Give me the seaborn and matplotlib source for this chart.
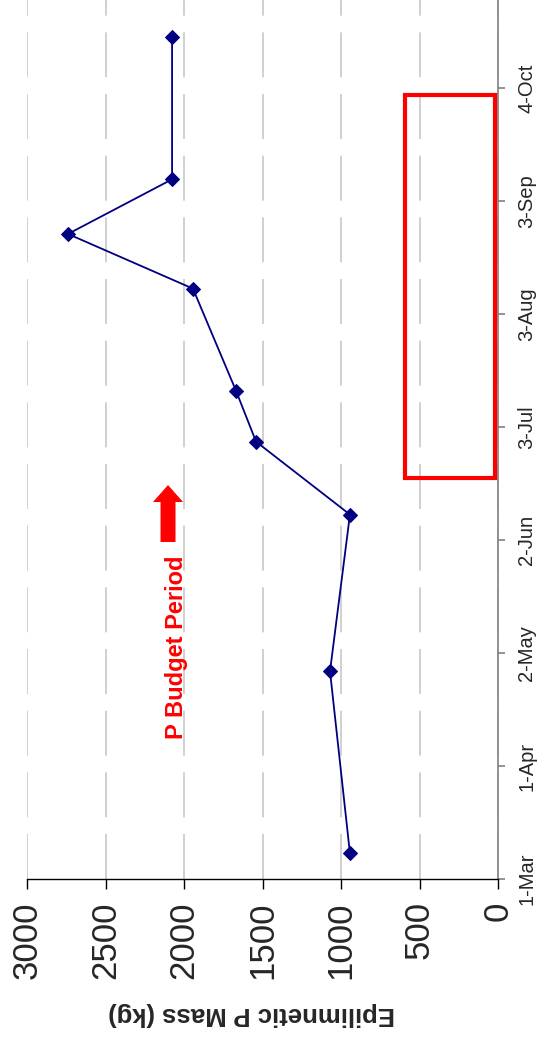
import matplotlib
matplotlib.use("Agg")
import matplotlib.pyplot as plt
import matplotlib.dates as mdates
import matplotlib.patches as mpatches
import pandas as pd
import seaborn as sns

sample_dates = ["2005-03-08", "2005-04-27", "2005-06-09", "2005-06-29", "2005-07-13",
                "2005-08-10", "2005-08-25", "2005-09-09", "2005-10-18"]
p_mass = [943, 1070, 943, 1541, 1669, 1943, 2739, 2076, 2076]

tick_dates = ["2005-03-01", "2005-04-01", "2005-05-02", "2005-06-02",
              "2005-07-03", "2005-08-03", "2005-09-03", "2005-10-04"]
mass_ticks = [0, 500, 1000, 1500, 2000, 2500, 3000]

# budget period box (start / end date, mass range)
budget_dates = ["2005-06-19", "2005-10-02"]
budget_mass = [19, 592]

df = pd.DataFrame({"date": pd.to_datetime(sample_dates), "mass": p_mass})

sns.set_style("white")
plt.rcParams["font.family"] = ["Liberation Sans", "DejaVu Sans"]

W, H = 542, 1038
fig = plt.figure(figsize=(W / 100, H / 100), dpi=100)
ax = fig.add_axes([27 / W, (H - 879) / H, 471 / W, 879 / H])

# whole chart is turned 90 degrees: dates run up, mass runs to the left
sns.lineplot(data=df, x="mass", y="date", orient="y", sort=True,
             marker="D", markersize=7.5, color="#000080", linewidth=1.3,
             markeredgecolor="#000080", ax=ax)

start = pd.Timestamp("2005-03-01")
ax.set_ylim(start, start + pd.Timedelta(days=241.2))
ax.set_xlim(3000, 0)

ax.set_xticks(mass_ticks)
ax.set_yticks(mdates.date2num(pd.to_datetime(tick_dates)))
ax.yaxis.set_major_formatter(mdates.DateFormatter("%-d-%b"))
ax.yaxis.tick_right()
ax.set_ylabel("")

ax.tick_params(axis="x", labelrotation=90, labelsize=25, length=7, width=1,
               direction="out", pad=9, bottom=True, color="black")
ax.tick_params(axis="y", labelrotation=90, labelsize=14.5, length=5, width=1.2,
               direction="out", pad=9, right=True, left=False, color="#808080")
for lab in ax.get_yticklabels():
    lab.set_va("center")

ax.grid(axis="x", color="#c8c8c8", linestyle=(0, (27, 10)), linewidth=1.2)
ax.grid(axis="y", visible=False)

ax.spines["top"].set_visible(False)
ax.spines["left"].set_visible(False)
ax.spines["right"].set_color("#808080")
ax.spines["right"].set_linewidth(1.2)
ax.spines["bottom"].set_color("black")
ax.spines["bottom"].set_linewidth(1)

ax.set_xlabel("Epilimnetic P Mass (kg)", rotation=180, fontweight="bold", fontsize=18.5)
ax.xaxis.set_label_coords((252 - 27) / 471, (879 - 1014) / 879)
ax.xaxis.label.set_va("center")

# red box marking the budget period
d0, d1 = mdates.date2num(pd.to_datetime(budget_dates))
box = mpatches.Rectangle((budget_mass[0], d0), budget_mass[1] - budget_mass[0], d1 - d0,
                         fill=False, edgecolor="#ff0000", linewidth=3, clip_on=False, zorder=4)
ax.add_patch(box)

arrow = mpatches.FancyArrow(0.2994, 0.3834, 0, 0.0648, width=0.0318, head_width=0.0637,
                            head_length=0.0193, length_includes_head=True,
                            transform=ax.transAxes, color="#ff0000", linewidth=0, zorder=4)
ax.add_patch(arrow)
ax.text(0.317, 0.2634, "P Budget Period", rotation=90, transform=ax.transAxes,
        color="#ff0000", fontweight="bold", fontsize=17, ha="center", va="center")

fig.savefig("out.png", dpi=100)
